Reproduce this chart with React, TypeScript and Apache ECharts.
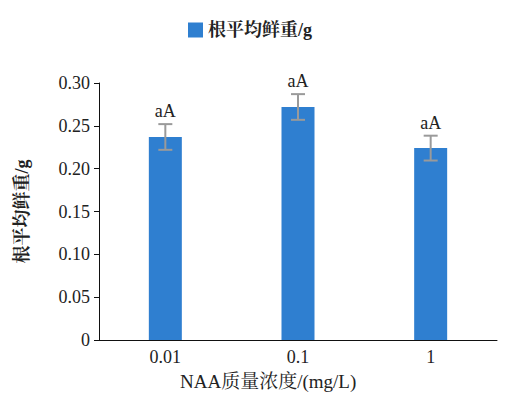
import React, { useEffect, useRef } from "react";
import * as echarts from "echarts";

const categories = ["0.01", "0.1", "1"];
const means = [0.237, 0.272, 0.224];
const errors = [0.015, 0.015, 0.0145];
const sigLabels = ["aA", "aA", "aA"];
const seriesName = "根平均鲜重/g";
const yAxisName = "根平均鲜重/g";
const xAxisName = "NAA质量浓度/(mg/L)";

const FONT = "'Liberation Serif', 'Noto Serif CJK SC', 'Noto Sans CJK SC', serif";

export default function App() {
  const ref = useRef<HTMLDivElement>(null);
  useEffect(() => {
    if (!ref.current) return;
    const chart = echarts.init(ref.current, null, { renderer: "svg" });
    chart.setOption({
      animation: false,
      backgroundColor: "#fff",
      textStyle: { fontFamily: FONT },
      legend: {
        data: [{ name: seriesName, icon: "rect" }],
        top: 16,
        left: 183,
        itemWidth: 15,
        itemHeight: 15,
        itemGap: 10,
        itemStyle: { borderWidth: 0 },
        textStyle: { fontSize: 18, fontWeight: "bold", color: "#222", fontFamily: FONT },
      },
      grid: { left: 99, right: 8, top: 83, bottom: 56 },
      xAxis: {
        type: "category",
        data: categories,
        axisLine: { lineStyle: { color: "#111", width: 1 } },
        axisTick: { inside: true, length: 5, lineStyle: { color: "#111" } },
        axisLabel: { fontSize: 18, color: "#222", margin: 8, fontFamily: FONT },
      },
      yAxis: {
        type: "value",
        min: 0,
        max: 0.3,
        interval: 0.05,
        name: yAxisName,
        nameLocation: "middle",
        nameGap: 68,
        nameTextStyle: { fontSize: 18, fontWeight: "bold", color: "#222", fontFamily: FONT },
        splitLine: { show: false },
        axisLine: { show: true, lineStyle: { color: "#111", width: 1 } },
        axisTick: { show: true, length: 5, lineStyle: { color: "#111" } },
        axisLabel: {
          fontSize: 18,
          color: "#222",
          margin: 9,
          fontFamily: FONT,
          formatter: (v: number) => (v === 0 ? "0" : v.toFixed(2)),
        },
      },
      series: [
        {
          name: seriesName,
          type: "bar",
          data: means,
          barWidth: 33,
          itemStyle: { color: "#2f7fd0" },
        },
        {
          type: "custom",
          name: "err",
          data: categories.map((_, i) => [i, means[i] - errors[i], means[i] + errors[i], i]),
          z: 10,
          renderItem: (params: any, api: any) => {
            const x = api.value(0);
            const lo = api.coord([x, api.value(1)]);
            const hi = api.coord([x, api.value(2)]);
            const half = 7;
            const style = { stroke: "#9a9a9a", lineWidth: 2 };
            const idx = api.value(3);
            return {
              type: "group",
              children: [
                { type: "line", shape: { x1: hi[0], y1: hi[1], x2: lo[0], y2: lo[1] }, style },
                { type: "line", shape: { x1: hi[0] - half, y1: hi[1], x2: hi[0] + half, y2: hi[1] }, style },
                { type: "line", shape: { x1: lo[0] - half, y1: lo[1], x2: lo[0] + half, y2: lo[1] }, style },
                {
                  type: "text",
                  x: hi[0],
                  y: hi[1] - 4,
                  style: {
                    text: sigLabels[idx],
                    fontSize: 18,
                    fontFamily: FONT,
                    fill: "#222",
                    textAlign: "center",
                    textVerticalAlign: "bottom",
                  },
                },
              ],
            };
          },
        },
      ],
      graphic: [
        {
          type: "text",
          left: 180,
          top: 372,
          style: { text: xAxisName, fontSize: 19, fontFamily: FONT, fill: "#222" },
        },
      ],
    });
    return () => chart.dispose();
  }, []);
  return <div ref={ref} style={{ width: 505, height: 396, position: "absolute", left: 0, top: 0 }} />;
}
